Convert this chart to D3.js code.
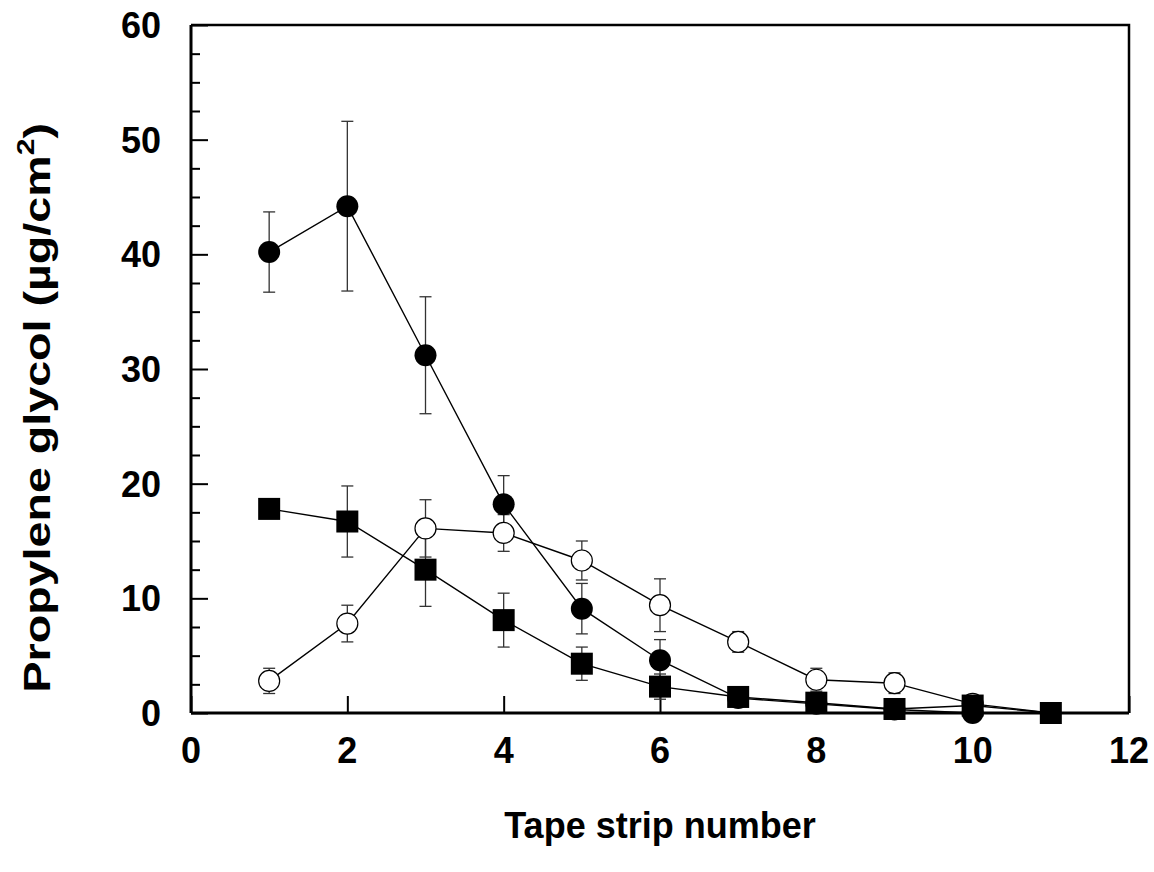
<!DOCTYPE html>
<html>
<head>
<meta charset="utf-8" />
<title>Propylene glycol tape strips</title>
<script src="https://d3js.org/d3.v7.min.js"></script>
<style>
  body { margin: 0; background: #fff; }
  svg text { font-family: "Liberation Sans", Arial, sans-serif; font-weight: bold; fill: #000; }
</style>
</head>
<body>
<div id="chart"></div>
<script>
// tape strip number
var strips = [1, 2, 3, 4, 5, 6, 7, 8, 9, 10, 11];

// filled circles
var filledVals = [40.2, 44.2, 31.2, 18.2, 9.1, 4.6, 1.3, 0.8, 0.3, 0.0];
var filledErr  = [3.5, 7.4, 5.1, 2.5, 2.2, 1.8, 0, 0, 0, 0];

// open circles
var openVals = [2.8, 7.8, 16.1, 15.7, 13.3, 9.4, 6.2, 2.9, 2.6, 0.8, 0.0];
var openErr  = [1.1, 1.6, 2.5, 1.6, 1.7, 2.3, 0.9, 1.0, 0.9, 0, 0];

// filled squares
var squareVals = [17.8, 16.7, 12.5, 8.1, 4.3, 2.3, 1.4, 0.9, 0.35, 0.65, 0.0];
var squareErr  = [0, 3.1, 3.2, 2.35, 1.45, 1.1, 0, 0, 0, 0, 0];

var xTicks = [0, 2, 4, 6, 8, 10, 12];
var yTicks = [0, 10, 20, 30, 40, 50, 60];
var yMinor = d3.range(0, 60.01, 2.5);

(function() {
var W = 1154, H = 872;
var pl = 191, pr = 1129, pt = 25, pb = 713;

var svg = d3.select("#chart").append("svg")
  .attr("width", W).attr("height", H);

var x = d3.scaleLinear().domain([0, 12]).range([pl, pr]);
var y = d3.scaleLinear().domain([0, 60]).range([pb, pt]);

function series(vals, errs) {
  return vals.map(function(v, i) { return { x: strips[i], y: v, e: errs[i] }; });
}
var sFilled = series(filledVals, filledErr);
var sOpen = series(openVals, openErr);
var sSquare = series(squareVals, squareErr);

// frame (top and right)
svg.append("path")
  .attr("d", "M" + pl + "," + pt + "H" + pr + "V" + pb)
  .attr("fill", "none").attr("stroke", "#000").attr("stroke-width", 2.5);

// axes with inward ticks
var yAxis = svg.append("g").attr("transform", "translate(" + pl + ",0)")
  .call(d3.axisRight(y).tickValues(yMinor).tickSize(9).tickFormat(""));
yAxis.selectAll(".tick line").attr("stroke-width", 2)
  .filter(function(d) { return d % 10 === 0; }).attr("x2", 17);
yAxis.select(".domain").remove();

var xAxis = svg.append("g").attr("transform", "translate(0," + pb + ")")
  .call(d3.axisTop(x).tickValues(xTicks).tickSize(17).tickFormat(""));
xAxis.selectAll(".tick line").attr("stroke-width", 2);
xAxis.select(".domain").remove();

svg.append("line").attr("x1", pl).attr("x2", pl).attr("y1", pt).attr("y2", pb)
  .attr("stroke", "#000").attr("stroke-width", 3);
svg.append("line").attr("x1", pl).attr("x2", pr).attr("y1", pb).attr("y2", pb)
  .attr("stroke", "#000").attr("stroke-width", 3);

// tick labels
svg.selectAll(".ylab").data(yTicks).enter().append("text")
  .attr("x", pl - 30).attr("y", function(d) { return y(d); })
  .attr("dy", "0.36em").attr("text-anchor", "end")
  .attr("font-size", 36).text(function(d) { return d; });

svg.selectAll(".xlab").data(xTicks).enter().append("text")
  .attr("x", function(d) { return x(d); }).attr("y", pb + 50)
  .attr("text-anchor", "middle")
  .attr("font-size", 36).text(function(d) { return d; });

// axis titles
svg.append("text").attr("x", (pl + pr) / 2).attr("y", 838)
  .attr("text-anchor", "middle").attr("font-size", 36).text("Tape strip number");

// y title is drawn a bit stretched along its length, as in the original
var yt = svg.append("text")
  .attr("transform", "translate(50,123) rotate(-90) scale(1.26,1)")
  .attr("text-anchor", "end").attr("font-size", 37);
yt.append("tspan").text("Propylene glycol (µg/cm");
yt.append("tspan").attr("font-size", 24).attr("dy", -16).text("2");
yt.append("tspan").attr("dy", 16).text(")");

var line = d3.line().x(function(d) { return x(d.x); }).y(function(d) { return y(d.y); });

function drawErr(data) {
  var g = svg.append("g").attr("stroke", "#333").attr("stroke-width", 1.3);
  var d = data.filter(function(p) { return p.e > 0; });
  g.selectAll(".v").data(d).enter().append("line")
    .attr("x1", function(p) { return x(p.x); }).attr("x2", function(p) { return x(p.x); })
    .attr("y1", function(p) { return y(p.y + p.e); }).attr("y2", function(p) { return y(p.y - p.e); });
  [1, -1].forEach(function(s) {
    g.selectAll(".c" + (s > 0 ? "u" : "d")).data(d).enter().append("line")
      .attr("x1", function(p) { return x(p.x) - 6; }).attr("x2", function(p) { return x(p.x) + 6; })
      .attr("y1", function(p) { return y(p.y + s * p.e); }).attr("y2", function(p) { return y(p.y + s * p.e); });
  });
}

function drawLine(data) {
  svg.append("path").datum(data).attr("d", line)
    .attr("fill", "none").attr("stroke", "#000").attr("stroke-width", 1.4);
}

// error bars, then lines, then markers
drawErr(sSquare); drawErr(sFilled); drawErr(sOpen);
drawLine(sSquare); drawLine(sFilled); drawLine(sOpen);

svg.selectAll(".fc").data(sFilled).enter().append("circle")
  .attr("cx", function(d) { return x(d.x); }).attr("cy", function(d) { return y(d.y); })
  .attr("r", 11).attr("fill", "#000");

svg.selectAll(".oc").data(sOpen.filter(function(d, i) { return i < 10; })).enter().append("circle")
  .attr("cx", function(d) { return x(d.x); }).attr("cy", function(d) { return y(d.y); })
  .attr("r", 10.5).attr("fill", "#fff").attr("stroke", "#000").attr("stroke-width", 1.2);

svg.selectAll(".sq").data(sSquare).enter().append("rect")
  .attr("x", function(d) { return x(d.x) - 11; }).attr("y", function(d) { return y(d.y) - 11; })
  .attr("width", 22).attr("height", 22).attr("fill", "#000");
})();
</script>
</body>
</html>
